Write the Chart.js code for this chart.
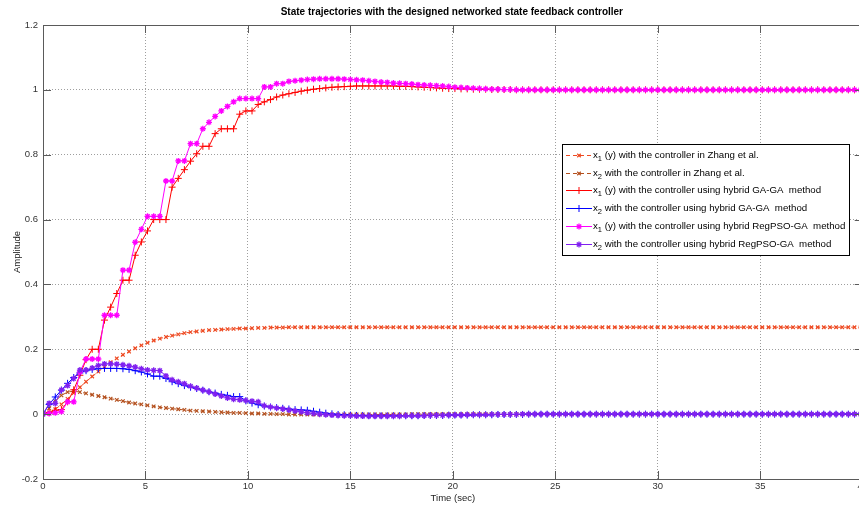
<!DOCTYPE html>
<html>
<head>
<meta charset="utf-8">
<title>State trajectories</title>
<script src="https://cdn.jsdelivr.net/npm/chart.js@4.4.1/dist/chart.umd.min.js"></script>
<style>
  html, body { margin: 0; padding: 0; background: #fff; overflow: hidden; }
  #wrap { position: relative; width: 870px; height: 506px; }
</style>
</head>
<body>
<div id="wrap"><canvas id="chart" width="870" height="506"></canvas></div>
<script>
'use strict';

// ── Data (sampled every 0.3 s, 0 … 39.9 s) ────────────────────
const SAMPLE_T = 0.3;

const xTicks = [0, 5, 10, 15, 20, 25, 30, 35, 40];
const yTicks = [-0.2, 0, 0.2, 0.4, 0.6, 0.8, 1, 1.2];

const seriesLabels = [
  'x1 (y) with the controller in Zhang et al.',
  'x2 with the controller in Zhang et al.',
  'x1 (y) with the controller using hybrid GA-GA  method',
  'x2 with the controller using hybrid GA-GA  method',
  'x1 (y) with the controller using hybrid RegPSO-GA  method',
  'x2 with the controller using hybrid RegPSO-GA  method'
];

const zhangX1 = [
  0, 0.005, 0.015, 0.03, 0.047, 0.065, 0.083, 0.1, 0.116, 0.131,
  0.146, 0.16, 0.172, 0.183, 0.193, 0.203, 0.212, 0.22, 0.227, 0.233,
  0.238, 0.242, 0.246, 0.25, 0.253, 0.255, 0.257, 0.259, 0.26, 0.261,
  0.262, 0.263, 0.264, 0.264, 0.265, 0.266, 0.266, 0.267, 0.267, 0.267,
  0.268, 0.268, 0.268, 0.268, 0.268, 0.268, 0.268, 0.268, 0.268, 0.268,
  0.268, 0.268, 0.268, 0.268, 0.268, 0.268, 0.268, 0.268, 0.268, 0.268,
  0.268, 0.268, 0.268, 0.268, 0.268, 0.268, 0.268, 0.268, 0.268, 0.268,
  0.268, 0.268, 0.268, 0.268, 0.268, 0.268, 0.268, 0.268, 0.268, 0.268,
  0.268, 0.268, 0.268, 0.268, 0.268, 0.268, 0.268, 0.268, 0.268, 0.268,
  0.268, 0.268, 0.268, 0.268, 0.268, 0.268, 0.268, 0.268, 0.268, 0.268,
  0.268, 0.268, 0.268, 0.268, 0.268, 0.268, 0.268, 0.268, 0.268, 0.268,
  0.268, 0.268, 0.268, 0.268, 0.268, 0.268, 0.268, 0.268, 0.268, 0.268,
  0.268, 0.268, 0.268, 0.268, 0.268, 0.268, 0.268, 0.268, 0.268, 0.268,
  0.268, 0.268, 0.268, 0.268
];

const zhangX2 = [
  0, 0.018, 0.04, 0.058, 0.068, 0.071, 0.068, 0.064, 0.06, 0.056,
  0.052, 0.048, 0.044, 0.04, 0.036, 0.033, 0.03, 0.027, 0.024, 0.021,
  0.019, 0.017, 0.015, 0.013, 0.011, 0.01, 0.009, 0.008, 0.007, 0.006,
  0.005, 0.004, 0.004, 0.003, 0.002, 0.002, 0.001, 0.001, 0, 0,
  -0.001, -0.001, -0.001, -0.001, -0.001, -0.001, -0.001, -0.001, -0.001, -0.001,
  -0.001, -0.001, -0.001, -0.001, -0.001, -0.001, -0.001, -0.001, -0.001, -0.001,
  0, 0, 0, 0, 0, 0, 0, 0, 0, 0,
  0, 0, 0, 0, 0, 0, 0, 0, 0, 0,
  0, 0, 0, 0, 0, 0, 0, 0, 0, 0,
  0, 0, 0, 0, 0, 0, 0, 0, 0, 0,
  0, 0, 0, 0, 0, 0, 0, 0, 0, 0,
  0, 0, 0, 0, 0, 0, 0, 0, 0, 0,
  0, 0, 0, 0, 0, 0, 0, 0, 0, 0,
  0, 0, 0, 0
];

const gaX1 = [
  0, 0.005, 0.012, 0.014, 0.038, 0.075, 0.12, 0.168, 0.2, 0.2,
  0.29, 0.33, 0.372, 0.413, 0.413, 0.49, 0.531, 0.565, 0.6, 0.6,
  0.6, 0.7, 0.727, 0.754, 0.78, 0.803, 0.826, 0.826, 0.865, 0.88,
  0.88, 0.88, 0.925, 0.935, 0.935, 0.955, 0.963, 0.97, 0.978, 0.984,
  0.988, 0.992, 0.996, 0.999, 1.002, 1.004, 1.006, 1.008, 1.009, 1.01,
  1.011, 1.012, 1.012, 1.012, 1.012, 1.012, 1.012, 1.012, 1.011, 1.011,
  1.01, 1.009, 1.008, 1.007, 1.006, 1.005, 1.004, 1.004, 1.003, 1.003,
  1.002, 1.002, 1.002, 1.001, 1.001, 1.001, 1.001, 1, 1, 1,
  1, 1, 1, 1, 1, 1, 1, 1, 1, 1,
  1, 1, 1, 1, 1, 1, 1, 1, 1, 1,
  1, 1, 1, 1, 1, 1, 1, 1, 1, 1,
  1, 1, 1, 1, 1, 1, 1, 1, 1, 1,
  1, 1, 1, 1, 1, 1, 1, 1, 1, 1,
  1, 1, 1, 1
];

const gaX2 = [
  0, 0.03, 0.053, 0.074, 0.095, 0.113, 0.127, 0.134, 0.138, 0.14,
  0.141, 0.141, 0.141, 0.14, 0.138, 0.134, 0.13, 0.124, 0.117, 0.117,
  0.11, 0.1, 0.094, 0.088, 0.083, 0.079, 0.074, 0.069, 0.065, 0.061,
  0.058, 0.054, 0.054, 0.041, 0.034, 0.029, 0.025, 0.022, 0.02, 0.018,
  0.016, 0.014, 0.013, 0.012, 0.009, 0.006, 0.003, 0.001, -0.001, -0.002,
  -0.003, -0.004, -0.004, -0.005, -0.005, -0.005, -0.005, -0.005, -0.005, -0.005,
  -0.005, -0.005, -0.004, -0.004, -0.004, -0.004, -0.003, -0.003, -0.003, -0.003,
  -0.002, -0.002, -0.002, -0.002, -0.001, -0.001, -0.001, -0.001, -0.001, 0,
  0, 0, 0, 0, 0, 0, 0, 0, 0, 0,
  0, 0, 0, 0, 0, 0, 0, 0, 0, 0,
  0, 0, 0, 0, 0, 0, 0, 0, 0, 0,
  0, 0, 0, 0, 0, 0, 0, 0, 0, 0,
  0, 0, 0, 0, 0, 0, 0, 0, 0, 0,
  0, 0, 0, 0
];

const psoX1 = [
  0, 0.002, 0.004, 0.008, 0.038, 0.038, 0.13, 0.17, 0.17, 0.17,
  0.305, 0.305, 0.305, 0.444, 0.444, 0.53, 0.57, 0.61, 0.61, 0.61,
  0.719, 0.719, 0.781, 0.781, 0.834, 0.834, 0.88, 0.9, 0.918, 0.935,
  0.949, 0.963, 0.973, 0.973, 0.973, 0.973, 1.009, 1.009, 1.019, 1.019,
  1.026, 1.028, 1.03, 1.032, 1.033, 1.034, 1.034, 1.034, 1.034, 1.033,
  1.032, 1.031, 1.03, 1.028, 1.026, 1.024, 1.023, 1.021, 1.02, 1.019,
  1.018, 1.016, 1.015, 1.014, 1.013, 1.012, 1.01, 1.008, 1.007, 1.006,
  1.005, 1.004, 1.003, 1.002, 1.002, 1.001, 1.001, 1, 1, 1,
  1, 1, 1, 1, 1, 1, 1, 1, 1, 1,
  1, 1, 1, 1, 1, 1, 1, 1, 1, 1,
  1, 1, 1, 1, 1, 1, 1, 1, 1, 1,
  1, 1, 1, 1, 1, 1, 1, 1, 1, 1,
  1, 1, 1, 1, 1, 1, 1, 1, 1, 1,
  1, 1, 1, 1
];

const psoX2 = [
  0, 0.033, 0.033, 0.075, 0.088, 0.11, 0.136, 0.136, 0.142, 0.15,
  0.155, 0.155, 0.154, 0.152, 0.149, 0.145, 0.14, 0.136, 0.135, 0.134,
  0.118, 0.106, 0.1, 0.094, 0.086, 0.08, 0.074, 0.069, 0.062, 0.056,
  0.05, 0.046, 0.044, 0.042, 0.04, 0.038, 0.026, 0.022, 0.019, 0.016,
  0.013, 0.01, 0.007, 0.004, 0.002, 0, -0.002, -0.003, -0.004, -0.005,
  -0.005, -0.006, -0.006, -0.006, -0.006, -0.006, -0.006, -0.006, -0.006, -0.005,
  -0.005, -0.005, -0.005, -0.004, -0.004, -0.004, -0.003, -0.003, -0.003, -0.002,
  -0.002, -0.002, -0.002, -0.001, -0.001, -0.001, -0.001, -0.001, 0, 0,
  0, 0, 0, 0, 0, 0, 0, 0, 0, 0,
  0, 0, 0, 0, 0, 0, 0, 0, 0, 0,
  0, 0, 0, 0, 0, 0, 0, 0, 0, 0,
  0, 0, 0, 0, 0, 0, 0, 0, 0, 0,
  0, 0, 0, 0, 0, 0, 0, 0, 0, 0,
  0, 0, 0, 0
];

// sample instants for the arrays above
const time = zhangX1.map((_, k) => +(k * SAMPLE_T).toFixed(1));

// ── Look ──────────────────────────────────────────────────────
const FONT       = "'Liberation Sans', Arial, sans-serif";
const AXIS_COLOR = '#5a5a5a';
const TICK_LEN   = 8;
const TITLE      = 'State trajectories with the designed networked state feedback controller';

const styles = [
  { color: '#ee4a22', dash: [4, 3], point: 'crossRot', radius: 2.5, pw: 1.2 },
  { color: '#b4501e', dash: [4, 3], point: 'crossRot', radius: 2.5, pw: 1.2 },
  { color: '#ff0000', dash: [],     point: 'cross',    radius: 3.5, pw: 1 },
  { color: '#0000ff', dash: [],     point: 'cross',    radius: 3.5, pw: 1 },
  { color: '#ff00ff', dash: [],     point: 'star',     radius: 3,   pw: 1.3 },
  { color: '#8020f0', dash: [],     point: 'star',     radius: 3,   pw: 1.3 }
];

const seriesValues = [zhangX1, zhangX2, gaX1, gaX2, psoX1, psoX2];

// ── Legend box (drawn inside the axes, MATLAB style) ──────────
const LEG = { x: 562, y: 144, w: 287, h: 111, first: 11, step: 17.7 };

function drawLegend(chart) {
  const ctx = chart.ctx;
  ctx.save();
  ctx.fillStyle = '#fff';
  ctx.fillRect(LEG.x, LEG.y, LEG.w, LEG.h);
  ctx.strokeStyle = '#000';
  ctx.lineWidth = 1;
  ctx.setLineDash([]);
  ctx.strokeRect(LEG.x + 0.5, LEG.y + 0.5, LEG.w, LEG.h);

  seriesLabels.forEach((label, i) => {
    const s  = styles[i];
    const cy = Math.round(LEG.y + LEG.first + i * LEG.step) + 0.5;
    const x0 = LEG.x + 4, x1 = LEG.x + 30;

    ctx.strokeStyle = s.color;
    ctx.lineWidth = 1;
    ctx.setLineDash(s.dash);
    ctx.beginPath();
    ctx.moveTo(x0, cy);
    ctx.lineTo(x1, cy);
    ctx.stroke();
    ctx.setLineDash([]);
    ctx.lineWidth = s.pw;
    ctx.fillStyle = s.color;
    Chart.helpers.drawPoint(ctx, { pointStyle: s.point, radius: s.radius, rotation: 0, borderWidth: s.pw }, (x0 + x1) / 2, cy);

    // "x" + subscript digit + rest of the label
    let tx = x1 + 1;
    ctx.fillStyle = '#000';
    ctx.textBaseline = 'middle';
    ctx.textAlign = 'left';
    ctx.font = '9.7px ' + FONT;
    ctx.fillText(label[0], tx, cy);
    tx += ctx.measureText(label[0]).width;
    ctx.font = '7.5px ' + FONT;
    ctx.fillText(label[1], tx, cy + 3.5);
    tx += ctx.measureText(label[1]).width;
    ctx.font = '9.7px ' + FONT;
    ctx.fillText(label.slice(2), tx, cy);
  });
  ctx.restore();
}

// ── Box, inward ticks, title, legend ──────────────────────────
const matlabAxes = {
  id: 'matlabAxes',
  afterDraw(chart) {
    const { ctx, chartArea: a, scales: { x, y } } = chart;
    ctx.save();
    ctx.strokeStyle = AXIS_COLOR;
    ctx.lineWidth = 1;
    ctx.setLineDash([]);
    ctx.strokeRect(a.left + 0.5, a.top + 0.5, a.width, a.height);

    ctx.beginPath();
    xTicks.forEach(v => {
      const px = Math.round(x.getPixelForValue(v)) + 0.5;
      ctx.moveTo(px, a.bottom); ctx.lineTo(px, a.bottom - TICK_LEN);
      ctx.moveTo(px, a.top);    ctx.lineTo(px, a.top + TICK_LEN);
    });
    yTicks.forEach(v => {
      const py = Math.round(y.getPixelForValue(v)) + 0.5;
      ctx.moveTo(a.left, py);  ctx.lineTo(a.left + TICK_LEN, py);
      ctx.moveTo(a.right, py); ctx.lineTo(a.right - TICK_LEN, py);
    });
    ctx.stroke();

    ctx.fillStyle = '#000';
    ctx.font = 'bold 10px ' + FONT;
    ctx.textAlign = 'center';
    ctx.textBaseline = 'middle';
    ctx.fillText(TITLE, (a.left + a.right) / 2 - 1, 12);
    ctx.restore();

    drawLegend(chart);
  }
};

const datasets = seriesValues.map((vals, i) => ({
  label: seriesLabels[i],
  data: vals.map((v, k) => ({ x: time[k], y: v })),
  borderColor: styles[i].color,
  backgroundColor: styles[i].color,
  borderWidth: 1,
  borderDash: styles[i].dash,
  pointStyle: styles[i].point,
  pointRadius: styles[i].radius,
  pointBorderWidth: styles[i].pw,
  pointHoverRadius: 0,
  tension: 0,
  order: 10 - i
}));

const gridStyle = {
  color: 'rgba(0,0,0,0.38)',
  lineWidth: 1,
  drawTicks: false
};

new Chart(document.getElementById('chart'), {
  type: 'line',
  data: { datasets },
  plugins: [matlabAxes],
  options: {
    responsive: false,
    devicePixelRatio: 1,
    animation: false,
    events: [],
    layout: { padding: { top: 25, right: 6, left: 0, bottom: 0 } },
    plugins: {
      legend: { display: false },
      tooltip: { enabled: false },
      title: { display: false }
    },
    scales: {
      x: {
        type: 'linear',
        min: 0,
        max: 40,
        afterBuildTicks: s => { s.ticks = xTicks.map(v => ({ value: v })); },
        afterFit: s => { s.height = 27; },
        ticks: { color: '#333', font: { family: FONT, size: 9.5 }, padding: 2, maxRotation: 0 },
        grid: { ...gridStyle },
        border: { display: false, dash: [1, 2] },
        title: { display: true, text: 'Time (sec)', color: '#222', font: { family: FONT, size: 9.5 }, padding: { top: 0, bottom: 2 } }
      },
      y: {
        type: 'linear',
        min: -0.2,
        max: 1.2,
        afterBuildTicks: s => { s.ticks = yTicks.map(v => ({ value: v })); },
        afterFit: s => { s.width = 43; },
        ticks: {
          color: '#333',
          font: { family: FONT, size: 9.5 },
          padding: 5,
          callback: v => String(Math.round(v * 10) / 10)
        },
        grid: { ...gridStyle },
        border: { display: false, dash: [1, 2] },
        title: { display: true, text: 'Amplitude', color: '#222', font: { family: FONT, size: 9.5 }, padding: { top: 12, bottom: 0 } }
      }
    }
  }
});
</script>
</body>
</html>
